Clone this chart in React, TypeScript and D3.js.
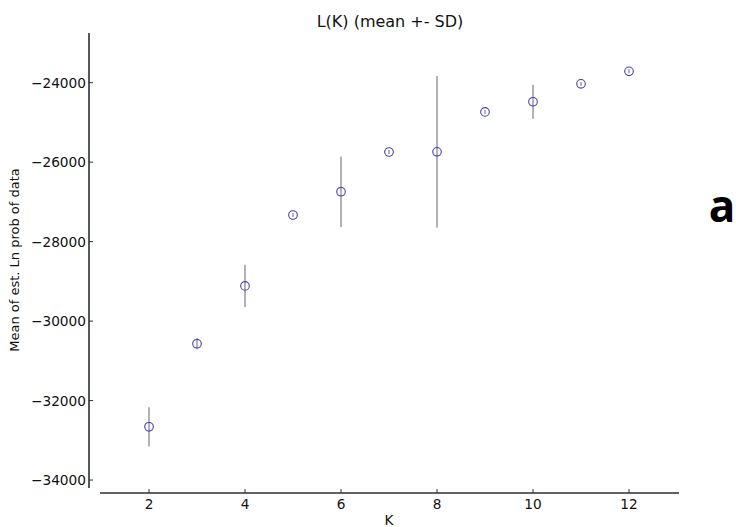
import React from "react";
import * as d3 from "d3";

const kValues = [2, 3, 4, 5, 6, 7, 8, 9, 10, 11, 12];
const meanLnProb = [-32660, -30570, -29115, -27330, -26745, -25745, -25740, -24735, -24480, -24030, -23715];
const sdLnProb = [495, 140, 530, 50, 890, 50, 1910, 50, 430, 50, 50];
const xTicks = [2, 4, 6, 8, 10, 12];
const yTicks = [-24000, -26000, -28000, -30000, -32000, -34000];

const W = 736;
const H = 527;

export default function App() {
  const x = d3.scaleLinear().domain([1, 13]).range([101, 677]);
  const y = d3.scaleLinear().domain([-34200, -22750]).range([488, 33]);
  const font = "'DejaVu Sans', sans-serif";
  const axisColor = "#2e2e2e";
  const fmt = (v: number) => (v < 0 ? "\u2212" + Math.abs(v) : String(v));

  return (
    <svg width={W} height={H} style={{ position: "absolute", left: 0, top: 0 }} viewBox={`0 0 ${W} ${H}`}>
      <rect x={0} y={0} width={W} height={H} fill="#fff" />
      <text x={390} y={27} textAnchor="middle" fontFamily={font} fontSize={16} fill="#111">
        L(K) (mean +- SD)
      </text>
      {/* y axis */}
      <line x1={89} x2={89} y1={y(-22750)} y2={y(-34200)} stroke={axisColor} strokeWidth={1.6} />
      {yTicks.map((t) => (
        <g key={t}>
          <line x1={89} x2={93} y1={y(t)} y2={y(t)} stroke={axisColor} strokeWidth={1} />
          <text x={86} y={y(t)} dy="0.36em" textAnchor="end" fontFamily={font} fontSize={13.7} fill="#111">
            {fmt(t)}
          </text>
        </g>
      ))}
      <text
        transform={`translate(19,${260}) rotate(-90)`}
        textAnchor="middle"
        fontFamily={font}
        fontSize={13}
        fill="#111"
      >
        Mean of est. Ln prob of data
      </text>
      {/* x axis */}
      <line x1={x(1) - 1} x2={x(13) + 2} y1={493} y2={493} stroke={axisColor} strokeWidth={1.6} />
      {xTicks.map((t) => (
        <g key={t}>
          <line x1={x(t)} x2={x(t)} y1={493} y2={489} stroke={axisColor} strokeWidth={1} />
          <text x={x(t)} y={504} dy="0.36em" textAnchor="middle" fontFamily={font} fontSize={13.7} fill="#111">
            {t}
          </text>
        </g>
      ))}
      <text x={x(7)} y={520} dy="0.36em" textAnchor="middle" fontFamily={font} fontSize={13.7} fill="#111">
        K
      </text>
      {/* error bars */}
      {kValues.map((k, i) => (
        <line
          key={"e" + k}
          x1={x(k)}
          x2={x(k)}
          y1={y(meanLnProb[i] + sdLnProb[i])}
          y2={y(meanLnProb[i] - sdLnProb[i])}
          stroke="#b3b3b3"
          strokeWidth={2}
        />
      ))}
      {/* points */}
      {kValues.map((k, i) => (
        <circle
          key={"p" + k}
          cx={x(k)}
          cy={y(meanLnProb[i])}
          r={4.3}
          fill="none"
          stroke="#4040b4"
          strokeWidth={1.1}
        />
      ))}
      <text x={722} y={222} textAnchor="middle" fontFamily="'Open Sans', sans-serif" fontWeight="bold" fontSize={44} fill="#000">
        a
      </text>
    </svg>
  );
}
